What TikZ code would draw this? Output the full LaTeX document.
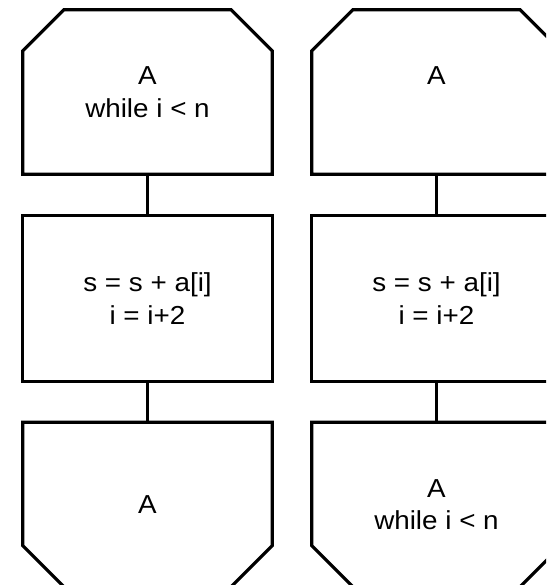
\documentclass[tikz,border=0pt]{standalone}
\usepackage{fontspec}
\setmainfont{Liberation Sans}[FakeStretch=1.07]
\begin{document}
\begin{tikzpicture}[x=1pt,y=-1pt,
  box/.style={draw=none, minimum width=249pt, minimum height=164pt, inner sep=0pt,
    font=\fontsize{26}{32.5}\selectfont, align=center},
  ln/.style={line width=3.2pt, line join=miter, draw=black}]
\useasboundingbox (0,0) rectangle (546,585);
\fill[white] (0,0) rectangle (546,585);
\clip (0,0) rectangle (546,585);
% left column
\node[box] (tl) at (147.5,92) {A\\while i < n};
\node[box, minimum height=165pt] (ml) at (147.5,298.5) {s = s + a[i]\\i = i+2};
\node[box] (bl) at (147.5,504.5) {A};
% right column
\node[box] (tr) at (436.5,92) {A\\\mbox{}};
\node[box, minimum height=165pt] (mr) at (436.5,298.5) {s = s + a[i]\\i = i+2};
\node[box] (br) at (436.5,504.5) {A\\while i < n};
% shapes
\foreach \n in {tl,tr}{
  \draw[ln] (\n.south west) -- ([yshift=-41pt]\n.north west) -- ([xshift=41pt]\n.north west)
    -- ([xshift=-41pt]\n.north east) -- ([yshift=-41pt]\n.north east) -- (\n.south east) -- cycle;
}
\foreach \n in {ml,mr}{
  \draw[ln] (\n.south west) rectangle (\n.north east);
}
\foreach \n in {bl,br}{
  \draw[ln] (\n.north west) -- (\n.north east) -- ([yshift=41pt]\n.south east)
    -- ([xshift=-41pt]\n.south east) -- ([xshift=41pt]\n.south west) -- ([yshift=41pt]\n.south west) -- cycle;
}
% connectors
\draw[ln] (tl.south) -- (ml.north);
\draw[ln] (ml.south) -- (bl.north);
\draw[ln] (tr.south) -- (mr.north);
\draw[ln] (mr.south) -- (br.north);
\end{tikzpicture}
\end{document}
